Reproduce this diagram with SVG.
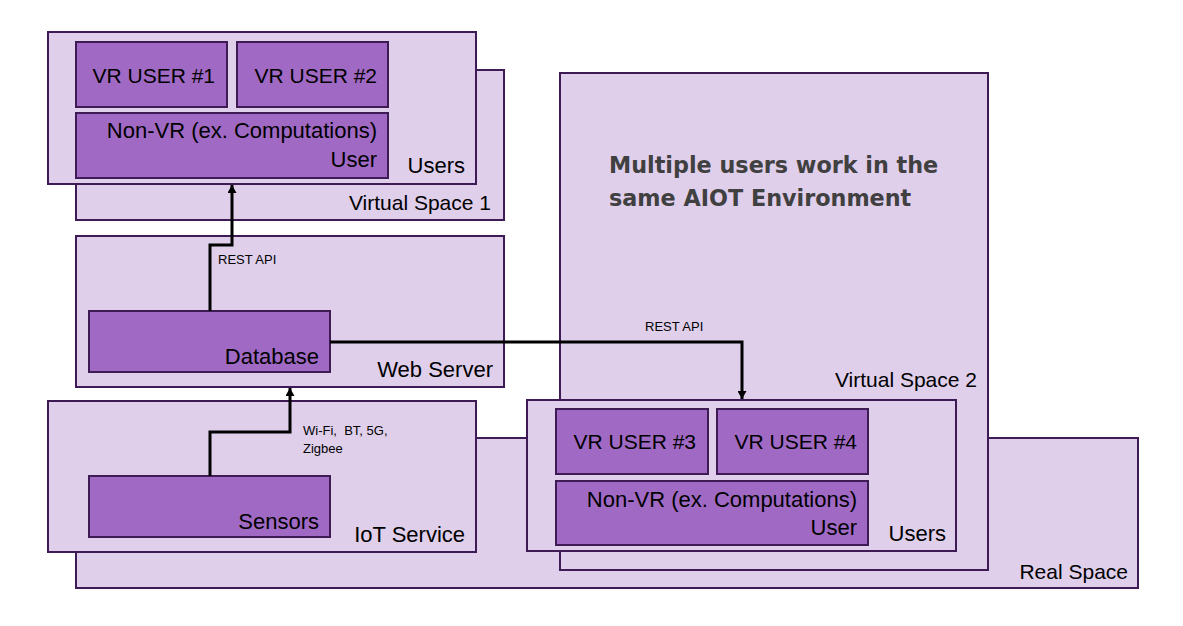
<svg xmlns="http://www.w3.org/2000/svg" width="1183" height="626" viewBox="0 0 1183 626">
<style>
.bg{fill:#ffffff}
.light{fill:#DFCFEB;stroke:#3E1B55;stroke-width:2}
.dark{fill:#A06AC4;stroke:#3E1B55;stroke-width:2}
.t{font-family:"Liberation Sans",Arial,sans-serif;font-size:22px;fill:#000;text-anchor:end}
.n{font-size:21px}
.s{font-family:"Liberation Sans",Arial,sans-serif;font-size:13px;fill:#000;white-space:pre}
.title{font-family:"DejaVu Sans",sans-serif;font-weight:bold;font-size:22.3px;fill:#404040}
.conn{fill:none;stroke:#000;stroke-width:3}
</style>
<defs>
<marker id="arr" markerUnits="userSpaceOnUse" markerWidth="9" markerHeight="9" refX="8" refY="4.5" orient="auto">
<path d="M0,0 L8,4.5 L0,9 z" fill="#000"/>
</marker>
</defs>
<rect class="bg" x="0" y="0" width="1183" height="626"/>

<g id="real-space">
<rect class="light" x="76" y="438" width="1062" height="150"/>
<text class="t n" x="1128" y="579">Real Space</text>
</g>

<g id="virtual-space-1">
<rect class="light" x="76" y="70" width="428" height="150"/>
<text class="t n" x="491" y="210">Virtual Space 1</text>
</g>

<g id="users-1">
<rect class="light" x="48" y="32" width="428" height="152"/>
<text class="t" x="465" y="173">Users</text>
<g id="vr-user-1">
<rect class="dark" x="76" y="42" width="151" height="65"/>
<text class="t n" x="215" y="83">VR USER #1</text>
</g>
<g id="vr-user-2">
<rect class="dark" x="237" y="42" width="151" height="65"/>
<text class="t n" x="377" y="83">VR USER #2</text>
</g>
<g id="non-vr-user-1">
<rect class="dark" x="76" y="113" width="312" height="65"/>
<text class="t" x="377" y="138">Non-VR (ex. Computations)</text>
<text class="t" x="377" y="167">User</text>
</g>
</g>

<g id="web-server">
<rect class="light" x="76" y="236" width="428" height="151"/>
<text class="t" x="493" y="377">Web Server</text>
<g id="database">
<rect class="dark" x="89" y="311" width="241" height="61"/>
<text class="t" x="319" y="364">Database</text>
</g>
</g>

<g id="iot-service">
<rect class="light" x="48" y="401" width="428" height="151"/>
<text class="t" x="465" y="542">IoT Service</text>
<g id="sensors">
<rect class="dark" x="89" y="476" width="241" height="61"/>
<text class="t" x="319" y="529">Sensors</text>
</g>
</g>

<g id="virtual-space-2">
<rect class="light" x="560" y="73" width="428" height="497"/>
<text class="title" x="609" y="173">Multiple users work in the</text>
<text class="title" x="609" y="206">same AIOT Environment</text>
<text class="t n" x="977" y="387">Virtual Space 2</text>
</g>

<g id="users-2">
<rect class="light" x="527" y="400" width="429" height="151"/>
<text class="t" x="946" y="541">Users</text>
<g id="vr-user-3">
<rect class="dark" x="556" y="409" width="152" height="65"/>
<text class="t n" x="696" y="449">VR USER #3</text>
</g>
<g id="vr-user-4">
<rect class="dark" x="717" y="409" width="151" height="65"/>
<text class="t n" x="857" y="449">VR USER #4</text>
</g>
<g id="non-vr-user-2">
<rect class="dark" x="556" y="481" width="312" height="64"/>
<text class="t" x="857" y="507">Non-VR (ex. Computations)</text>
<text class="t" x="857" y="535">User</text>
</g>
</g>

<g id="connectors">
<path class="conn" d="M210,311 V245 H232 V185" marker-end="url(#arr)"/>
<path class="conn" d="M210,476 V432 H290 V388" marker-end="url(#arr)"/>
<path class="conn" d="M330,342 H742 V399" marker-end="url(#arr)"/>
<text class="s" x="218" y="264">REST API</text>
<text class="s" x="645" y="331">REST API</text>
<text class="s" x="303" y="435">Wi-Fi,  BT, 5G,</text>
<text class="s" x="303" y="453">Zigbee</text>
</g>
</svg>
